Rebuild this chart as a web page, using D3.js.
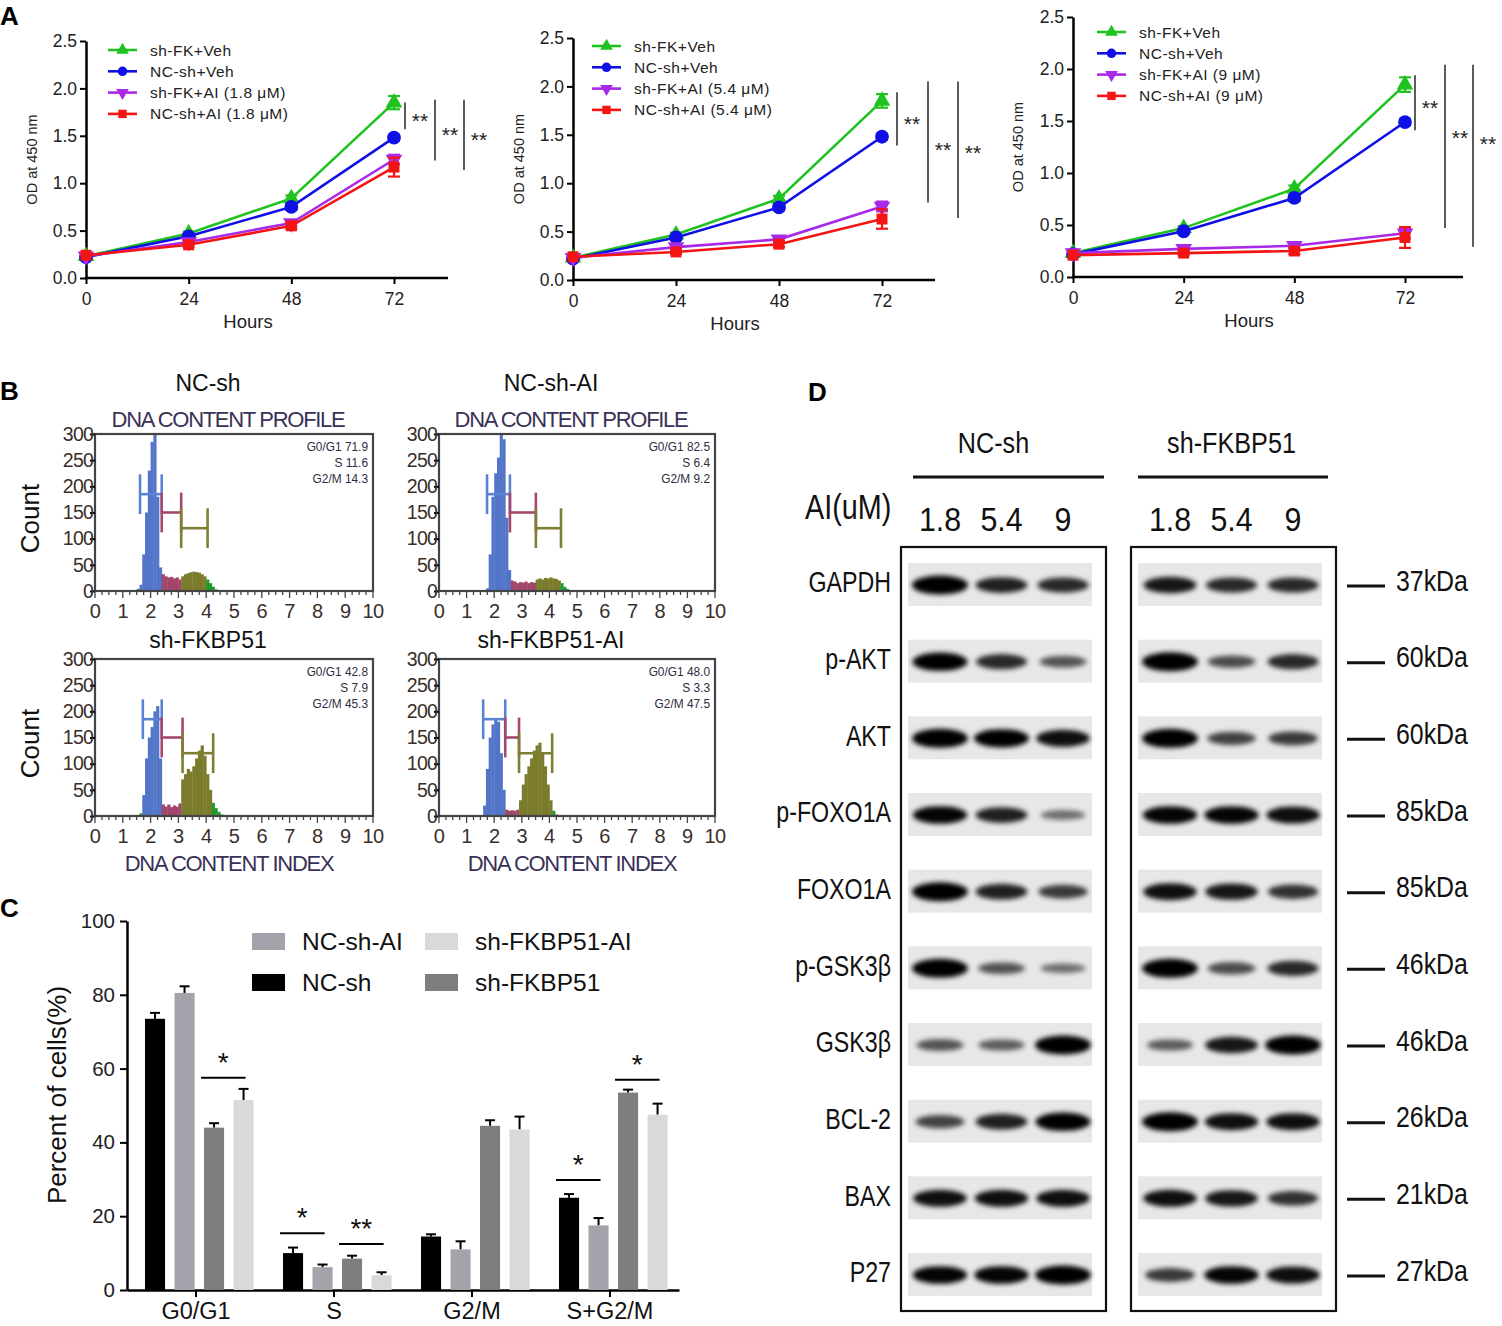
<!DOCTYPE html>
<html>
<head>
<meta charset="utf-8">
<title>FKBP51 / AI proliferation, cell cycle and western blot</title>
<script src="https://d3js.org/d3.v7.min.js"></script>
<style>
body { margin: 0; background: #fff; }
svg, svg text { font-family: "Liberation Sans", Arial, sans-serif; }
</style>
</head>
<body>
<script>

// ---------- panel A : CCK-8 growth curves ----------
var hours = [0, 24, 48, 72];
var odTicks = [0, 0.5, 1.0, 1.5, 2.0, 2.5];
var growthSeries = ["sh-FK+Veh", "NC-sh+Veh", "sh-FK+AI", "NC-sh+AI"];
var growthDoses = ["1.8 μM", "5.4 μM", "9 μM"];
var od18 = [[0.23, 0.47, 0.84, 1.85], [0.22, 0.44, 0.75, 1.48], [0.23, 0.38, 0.58, 1.25], [0.24, 0.35, 0.55, 1.17]];
var od54 = [[0.23, 0.47, 0.84, 1.85], [0.22, 0.44, 0.75, 1.48], [0.23, 0.34, 0.42, 0.76], [0.24, 0.29, 0.37, 0.63]];
var od9  = [[0.23, 0.47, 0.85, 1.85], [0.22, 0.44, 0.76, 1.49], [0.23, 0.27, 0.30, 0.42], [0.21, 0.23, 0.25, 0.38]];
var odErr = [[0, 0.02, 0.03, 0.07], [0, 0.02, 0.03, 0.03], [0, 0.02, 0.03, 0.05], [0, 0.02, 0.03, 0.10]];
// significance brackets at 72 h: [top, bottom] in OD units
var odSig18 = [[1.85, 1.57], [1.88, 1.24], [1.88, 1.14]];
var odSig54 = [[1.94, 1.39], [2.05, 0.80], [2.05, 0.64]];
var odSig9  = [[1.94, 1.41], [2.04, 0.47], [2.04, 0.29]];

// ---------- panel B : DNA content histograms (bins of 0.1) ----------
var histNames = ["NC-sh", "NC-sh-AI", "sh-FKBP51", "sh-FKBP51-AI"];
var histStart = [1.5, 1.7, 1.6, 1.5];
var histNC   = [4, 12, 70, 150, 230, 285, 300, 180, 45, 32, 28, 26, 27, 24, 26, 22, 28, 32, 34, 36, 37, 36, 35, 32, 28, 22, 15, 8, 3];
var histNCAI = [5, 70, 180, 225, 255, 300, 290, 140, 40, 20, 18, 15, 17, 16, 18, 15, 17, 16, 22, 24, 22, 25, 24, 26, 24, 23, 20, 15, 8, 4];
var histFK   = [5, 40, 110, 150, 170, 200, 210, 110, 22, 18, 22, 17, 20, 18, 24, 70, 80, 90, 85, 95, 110, 125, 135, 115, 80, 50, 25, 15, 8, 3];
var histFKAI = [0, 20, 90, 150, 175, 185, 180, 120, 50, 12, 10, 11, 10, 12, 30, 60, 80, 95, 110, 125, 135, 140, 120, 95, 60, 30, 10, 3];
// gate limits [G1 start, S start, G2 start, G2 end]
var histGates = [[1.62, 2.4, 3.1, 4.05], [1.74, 2.57, 3.51, 4.42], [1.72, 2.4, 3.15, 4.25], [1.6, 2.4, 2.9, 4.1]];
var gateLevels = [185, 150, 120];
var histStats = [
  ["G0/G1 71.9", "S 11.6", "G2/M 14.3"],
  ["G0/G1 82.5", "S 6.4", "G2/M 9.2"],
  ["G0/G1 42.8", "S 7.9", "G2/M 45.3"],
  ["G0/G1 48.0", "S 3.3", "G2/M 47.5"]
];
var countTicks = [0, 50, 100, 150, 200, 250, 300];
var indexTicks = [0, 1, 2, 3, 4, 5, 6, 7, 8, 9, 10];

// ---------- panel C : cell-cycle bar chart ----------
var phases = ["G0/G1", "S", "G2/M", "S+G2/M"];
var cellGroups = ["NC-sh", "NC-sh-AI", "sh-FKBP51", "sh-FKBP51-AI"];
var pctNC   = [73.5, 10.0, 14.5, 25.0];
var pctNCAI = [80.5, 6.2, 11.0, 17.5];
var pctFK   = [44.0, 8.5, 44.5, 53.5];
var pctFKAI = [51.5, 4.0, 43.5, 47.5];
var errNC   = [1.6, 1.5, 0.6, 1.0];
var errNCAI = [1.8, 0.7, 2.2, 2.0];
var errFK   = [1.2, 0.8, 1.5, 0.8];
var errFKAI = [3.0, 0.8, 3.5, 3.0];
var pctTicks = [0, 20, 40, 60, 80, 100];
var pctSig = [
  { phase: "G0/G1", from: 2, to: 3, y: 57.5, label: "*" },
  { phase: "S", from: 0, to: 1, y: 15.4, label: "*" },
  { phase: "S", from: 2, to: 3, y: 12.5, label: "**" },
  { phase: "S+G2/M", from: 0, to: 1, y: 29.8, label: "*" },
  { phase: "S+G2/M", from: 2, to: 3, y: 57.0, label: "*" }
];

// ---------- panel D : western blot ----------
var proteins = ["GAPDH", "p-AKT", "AKT", "p-FOXO1A", "FOXO1A", "p-GSK3β", "GSK3β", "BCL-2", "BAX", "P27"];
var kDa = ["37kDa", "60kDa", "60kDa", "85kDa", "85kDa", "46kDa", "46kDa", "26kDa", "21kDa", "27kDa"];
var blotGroups = ["NC-sh", "sh-FKBP51"];
var aiDoses = ["1.8", "5.4", "9"];
var bandNC = [[1.0, 0.75, 0.7], [0.95, 0.7, 0.45], [1.0, 0.95, 0.85], [0.9, 0.75, 0.3], [1.0, 0.75, 0.6],
              [1.0, 0.45, 0.3], [0.45, 0.4, 1.0], [0.55, 0.75, 0.95], [0.85, 0.85, 0.85], [0.9, 0.9, 1.0]];
var bandFK = [[0.8, 0.7, 0.7], [1.0, 0.5, 0.7], [1.0, 0.55, 0.6], [0.9, 0.9, 0.85], [0.85, 0.8, 0.65],
              [1.0, 0.5, 0.7], [0.4, 0.8, 1.0], [1.0, 0.85, 0.85], [0.85, 0.8, 0.65], [0.6, 0.9, 0.85]];


var svg = d3.select("body").append("svg").attr("width", 1502).attr("height", 1326);
svg.append("rect").attr("width", 1502).attr("height", 1326).attr("fill", "#fff");

var defs = svg.append("defs");
defs.append("filter").attr("id", "blur").attr("x", "-30%").attr("y", "-100%").attr("width", "160%").attr("height", "300%")
  .append("feGaussianBlur").attr("stdDeviation", 2.6);

// condensed text: squeeze horizontally
function ntext(g, x, y, txt, size, anchor, sx) {
  return g.append("text").attr("transform", "translate(" + x + "," + y + ") scale(" + sx + ",1)")
    .attr("text-anchor", anchor).attr("dy", "0.36em").style("font-size", size + "px")
    .attr("fill", "#111").text(txt);
}

// panel letters
[["A", 0, 25], ["B", 0, 400], ["C", 0, 917], ["D", 808, 401]].forEach(function (p) {
  svg.append("text").attr("x", p[1]).attr("y", p[2]).text(p[0])
    .style("font-size", "26px").style("font-weight", "bold");
});

function styleAxis(ax, fs) {
  ax.attr("font-family", null).attr("font-size", null);
  ax.select(".domain").attr("stroke", "#000").attr("stroke-width", 2.5);
  ax.selectAll(".tick line").attr("stroke", "#000").attr("stroke-width", 2);
  ax.selectAll(".tick text").attr("fill", "#222").style("font-size", fs + "px");
}

// ====================== A ======================
var lineColors = ["#1fc21f", "#1010e6", "#a82ae8", "#f41414"];
var symbolTypes = [d3.symbolTriangle, d3.symbolCircle, d3.symbolTriangle, d3.symbolSquare];
var symbolRot = [0, 0, 180, 0];
var symbolSize = [120, 150, 120, 120];

var growthLayout = [
  { x0: 86,   x72: 394,  xEnd: 448,  yTop: 41, yBot: 278, legX: 108,  legY: 50, labX: 32,   sigDx: [11, 41, 70], sigDy: [0, 0, 0] },
  { x0: 573,  x72: 882,  xEnd: 935,  yTop: 38, yBot: 280, legX: 592,  legY: 46, labX: 519,  sigDx: [15, 46, 76], sigDy: [0, 3, -2] },
  { x0: 1073, x72: 1405, xEnd: 1463, yTop: 17, yBot: 277, legX: 1097, legY: 32, labX: 1018, sigDx: [10, 40, 68], sigDy: [0, -13, -17] }
];
var growthData = [od18, od54, od9];
var growthSig = [odSig18, odSig54, odSig9];

growthLayout.forEach(function (L, c) {
  var g = svg.append("g");
  var x = d3.scaleLinear().domain([0, 72]).range([L.x0, L.x72]);
  var y = d3.scaleLinear().domain([0, 2.5]).range([L.yBot, L.yTop]);

  var ya = g.append("g").attr("transform", "translate(" + L.x0 + ",0)")
    .call(d3.axisLeft(y).tickValues(odTicks).tickSize(6).tickSizeOuter(0).tickFormat(d3.format(".1f")));
  styleAxis(ya, 17.5);
  var xa = g.append("g").attr("transform", "translate(0," + L.yBot + ")")
    .call(d3.axisBottom(x).tickValues(hours).tickSize(6).tickSizeOuter(0));
  styleAxis(xa, 17.5);
  xa.select(".domain").remove();
  xa.selectAll(".tick text").attr("dy", "1.05em");
  g.append("line").attr("x1", L.x0 - 1).attr("x2", L.xEnd).attr("y1", L.yBot).attr("y2", L.yBot)
    .attr("stroke", "#000").attr("stroke-width", 2.5);

  g.append("text").attr("x", (L.x0 + L.xEnd) / 2 - 19).attr("y", L.yBot + 50).attr("text-anchor", "middle")
    .style("font-size", "18.5px").attr("fill", "#222").text("Hours");
  g.append("text").attr("transform", "translate(" + L.labX + "," + ((L.yTop + L.yBot) / 2) + ") rotate(-90)")
    .attr("text-anchor", "middle").attr("dy", "0.35em").style("font-size", "14.5px").attr("fill", "#222")
    .text("OD at 450 nm");

  var line = d3.line().x(function (d, i) { return x(hours[i]); }).y(function (d) { return y(d); });
  var vals = growthData[c];
  vals.forEach(function (s, k) {
    g.append("path").datum(s).attr("d", line).attr("fill", "none")
      .attr("stroke", lineColors[k]).attr("stroke-width", 2.6);
    s.forEach(function (v, i) {
      var e = odErr[k][i];
      if (e > 0) {
        var xx = x(hours[i]);
        g.append("line").attr("x1", xx).attr("x2", xx).attr("y1", y(v - e)).attr("y2", y(v + e))
          .attr("stroke", lineColors[k]).attr("stroke-width", 2.2);
        [v - e, v + e].forEach(function (b) {
          g.append("line").attr("x1", xx - 6).attr("x2", xx + 6).attr("y1", y(b)).attr("y2", y(b))
            .attr("stroke", lineColors[k]).attr("stroke-width", 2.2);
        });
      }
    });
    g.selectAll(null).data(s).enter().append("path")
      .attr("d", d3.symbol().type(symbolTypes[k]).size(symbolSize[k]))
      .attr("transform", function (d, i) { return "translate(" + x(hours[i]) + "," + y(d) + ") rotate(" + symbolRot[k] + ")"; })
      .attr("fill", lineColors[k]);
  });

  // significance bars
  growthSig[c].forEach(function (b, j) {
    var xx = L.x72 + L.sigDx[j];
    g.append("line").attr("x1", xx).attr("x2", xx).attr("y1", y(b[0])).attr("y2", y(b[1]))
      .attr("stroke", "#333").attr("stroke-width", 1.6);
    g.append("text").attr("x", xx + 15).attr("y", (y(b[0]) + y(b[1])) / 2 + 12 + L.sigDy[j]).attr("text-anchor", "middle")
      .style("font-size", "21px").attr("fill", "#222").text("**");
  });

  // legend
  growthSeries.forEach(function (name, k) {
    var ly = L.legY + k * 21.3;
    g.append("line").attr("x1", L.legX).attr("x2", L.legX + 29).attr("y1", ly).attr("y2", ly)
      .attr("stroke", lineColors[k]).attr("stroke-width", 2.6);
    g.append("path").attr("d", d3.symbol().type(symbolTypes[k]).size(70))
      .attr("transform", "translate(" + (L.legX + 14.5) + "," + ly + ") rotate(" + symbolRot[k] + ")")
      .attr("fill", lineColors[k]);
    g.append("text").attr("x", L.legX + 42).attr("y", ly).attr("dy", "0.36em")
      .style("font-size", "15.5px").style("letter-spacing", "0.5px").attr("fill", "#222")
      .text(k < 2 ? name : name + " (" + growthDoses[c] + ")");
  });
});

// ====================== B ======================
var histData = [histNC, histNCAI, histFK, histFKAI];
var histBoxes = [
  { x: 95, y: 434, w: 278, h: 157, titleY: 383, title2: "DNA CONTENT PROFILE" },
  { x: 439, y: 434, w: 276, h: 157, titleY: 383, title2: "DNA CONTENT PROFILE" },
  { x: 95, y: 659, w: 278, h: 157, titleY: 640, title2: null },
  { x: 439, y: 659, w: 276, h: 157, titleY: 640, title2: null }
];
var phaseColors = ["#1f9a2f", "#5275c8", "#a1456a", "#7b7b2c", "#1f9a2f"];
var gateColors = ["#5a83d6", "#a4486d", "#7f7f33"];

histBoxes.forEach(function (B, h) {
  var g = svg.append("g");
  var x = d3.scaleLinear().domain([0, 10]).range([B.x, B.x + B.w]);
  var y = d3.scaleLinear().domain([0, 300]).range([B.y + B.h, B.y]);
  var gates = histGates[h];

  g.append("text").attr("x", B.x + B.w / 2 - 26).attr("y", B.titleY).attr("text-anchor", "middle")
    .attr("dy", "0.36em").style("font-size", "23px").attr("fill", "#111").text(histNames[h]);
  if (B.title2) {
    g.append("text").attr("x", B.x + B.w / 2 - 6).attr("y", B.y - 7).attr("text-anchor", "middle")
      .style("font-size", "22px").style("letter-spacing", "-1.3px").attr("fill", "#3a3158").text(B.title2);
  }

  // bars of the histogram
  var counts = histData[h];
  g.selectAll(null).data(counts).enter().append("rect")
    .attr("x", function (d, i) { return x(histStart[h] + i * 0.1); })
    .attr("width", function () { return x(0.1) - x(0) + 0.4; })
    .attr("y", function (d) { return y(d); })
    .attr("height", function (d) { return y(0) - y(d); })
    .attr("fill", function (d, i) {
      var c = histStart[h] + i * 0.1 + 0.05;
      var p = c < gates[0] ? 0 : c < gates[1] ? 1 : c < gates[2] ? 2 : c < gates[3] ? 3 : 4;
      return phaseColors[p];
    });

  // gates
  [0, 1, 2].forEach(function (k) {
    var gy = y(gateLevels[k]);
    var xa = x(gates[k]), xb = x(gates[k + 1]);
    g.append("line").attr("x1", xa).attr("x2", xb).attr("y1", gy).attr("y2", gy)
      .attr("stroke", gateColors[k]).attr("stroke-width", 2.6);
    [xa, xb].forEach(function (xx) {
      g.append("line").attr("x1", xx).attr("x2", xx).attr("y1", y(gateLevels[k] + 38)).attr("y2", y(gateLevels[k] - 38))
        .attr("stroke", gateColors[k]).attr("stroke-width", 2.6);
    });
  });

  // frame
  g.append("rect").attr("x", B.x).attr("y", B.y).attr("width", B.w).attr("height", B.h)
    .attr("fill", "none").attr("stroke", "#444").attr("stroke-width", 2.2);

  var ya = g.append("g").attr("transform", "translate(" + B.x + ",0)")
    .call(d3.axisLeft(y).tickValues(countTicks).tickSize(5).tickSizeOuter(0));
  styleAxis(ya, 19.5);
  ya.select(".domain").remove();
  ya.selectAll(".tick text").attr("x", -2).attr("fill", "#3a2f2a").style("letter-spacing", "-0.8px");
  var minor = d3.range(0, 10.01, 0.25);
  g.selectAll(null).data(minor).enter().append("line")
    .attr("x1", function (d) { return x(d); }).attr("x2", function (d) { return x(d); })
    .attr("y1", B.y + B.h).attr("y2", function (d) { return B.y + B.h + (d % 1 === 0 ? 7 : 4); })
    .attr("stroke", "#444").attr("stroke-width", 1.3);
  g.selectAll(null).data(indexTicks).enter().append("text")
    .attr("x", function (d) { return x(d); }).attr("y", B.y + B.h + 27).attr("text-anchor", "middle")
    .style("font-size", "20px").style("letter-spacing", "-0.5px").attr("fill", "#3a2f2a").text(function (d) { return d; });

  histStats[h].forEach(function (t, k) {
    ntext(g, B.x + B.w - 5, B.y + 12 + k * 16, t, 13.5, "end", 0.88).attr("fill", "#2d2d40");
  });

  if (h % 2 === 0) {
    g.append("text").attr("transform", "translate(30," + (B.y + B.h / 2 + 6) + ") rotate(-90)")
      .attr("text-anchor", "middle").attr("dy", "0.36em").style("font-size", "26px").attr("fill", "#111").text("Count");
  }
  if (h >= 2) {
    g.append("text").attr("x", B.x + B.w / 2 - 5).attr("y", B.y + B.h + 55).attr("text-anchor", "middle")
      .style("font-size", "22px").style("letter-spacing", "-1.3px").attr("fill", "#3a3158").text("DNA CONTENT INDEX");
  }
});

// ====================== C ======================
(function () {
  var g = svg.append("g");
  var pct = [pctNC, pctNCAI, pctFK, pctFKAI];
  var err = [errNC, errNCAI, errFK, errFKAI];
  var colors = ["#000000", "#a3a3ab", "#7e7e7e", "#d9d9d9"];
  var x0 = d3.scaleBand().domain(phases).range([127, 679]);
  var x1 = d3.scaleBand().domain(cellGroups).range([18, 126.6]).paddingInner(0.32);
  var y = d3.scaleLinear().domain([0, 100]).range([1290, 921]);

  var ya = g.append("g").attr("transform", "translate(127,0)")
    .call(d3.axisLeft(y).tickValues(pctTicks).tickSize(7).tickSizeOuter(0));
  styleAxis(ya, 20.5);
  ya.selectAll(".tick text").attr("x", -12);
  var xa = g.append("g").attr("transform", "translate(0,1290)")
    .call(d3.axisBottom(x0).tickSize(7).tickSizeOuter(0));
  styleAxis(xa, 23.5);
  xa.selectAll(".tick text").attr("y", 0).attr("dy", null).attr("transform", "translate(0,29)").attr("fill", "#111");

  phases.forEach(function (p, i) {
    cellGroups.forEach(function (c, k) {
      var bx = x0(p) + x1(c), v = pct[k][i], e = err[k][i];
      var cx = bx + x1.bandwidth() / 2;
      g.append("line").attr("x1", cx).attr("x2", cx).attr("y1", y(v)).attr("y2", y(v + e))
        .attr("stroke", "#000").attr("stroke-width", 2);
      g.append("line").attr("x1", cx - 5).attr("x2", cx + 5).attr("y1", y(v + e)).attr("y2", y(v + e))
        .attr("stroke", "#000").attr("stroke-width", 2);
      g.append("rect").attr("x", bx).attr("width", x1.bandwidth()).attr("y", y(v)).attr("height", y(0) - y(v))
        .attr("fill", colors[k]);
    });
  });

  pctSig.forEach(function (s) {
    var xa = x0(s.phase) + x1(cellGroups[s.from]) - 3;
    var xb = x0(s.phase) + x1(cellGroups[s.to]) + x1.bandwidth() - 8;
    g.append("line").attr("x1", xa).attr("x2", xb).attr("y1", y(s.y)).attr("y2", y(s.y))
      .attr("stroke", "#000").attr("stroke-width", 2);
    g.append("text").attr("x", (xa + xb) / 2).attr("y", y(s.y) - 6).attr("text-anchor", "middle")
      .style("font-size", "28px").attr("fill", "#111").text(s.label);
  });

  g.append("text").attr("transform", "translate(57,1095) rotate(-90)").attr("text-anchor", "middle")
    .attr("dy", "0.36em").style("font-size", "26px").attr("fill", "#111").text("Percent of cells(%)");

  // legend: two rows, two columns
  var legOrder = [[1, 252, 941], [3, 425, 941], [0, 252, 982], [2, 425, 982]];
  legOrder.forEach(function (o) {
    g.append("rect").attr("x", o[1]).attr("y", o[2] - 8).attr("width", 33).attr("height", 17).attr("fill", colors[o[0]]);
    g.append("text").attr("x", o[1] + 50).attr("y", o[2]).attr("dy", "0.36em")
      .style("font-size", "24.5px").attr("fill", "#111").text(cellGroups[o[0]]);
  });
})();

// ====================== D ======================
(function () {
  var g = svg.append("g");
  var rowY = d3.scalePoint().domain(proteins).range([584, 1274]);
  var strips = [{ x: 908, w: 184 }, { x: 1138, w: 184 }];
  var boxes = [{ x: 901, w: 205 }, { x: 1131, w: 205 }];
  var bands = [bandNC, bandFK];

  blotGroups.forEach(function (name, gi) {
    var S = strips[gi];
    var lane = d3.scalePoint().domain(aiDoses).range([S.x + 32, S.x + 155]);
    ntext(g, boxes[gi].x + boxes[gi].w / 2 - 10 + gi * 8, 442, name, 30, "middle", 0.84);
    g.append("line").attr("x1", boxes[gi].x + 12 - gi * 5).attr("x2", boxes[gi].x + 203 - gi * 6)
      .attr("y1", 477).attr("y2", 477).attr("stroke", "#111").attr("stroke-width", 3);
    aiDoses.forEach(function (d) {
      ntext(g, lane(d), 519, d, 33, "middle", 0.92);
    });

    proteins.forEach(function (p, r) {
      var cy = rowY(p);
      g.append("rect").attr("x", S.x).attr("y", cy - 21).attr("width", S.w).attr("height", 43)
        .attr("fill", "#e7e7e7");
      aiDoses.forEach(function (d, li) {
        var v = bands[gi][r][li];
        g.append("ellipse").attr("cx", lane(d)).attr("cy", cy + 1)
          .attr("rx", 20 + 8 * v).attr("ry", 3 + 6.5 * v)
          .attr("fill", "#000").attr("opacity", Math.min(1, 0.3 + 0.75 * v))
          .attr("filter", "url(#blur)");
      });
    });

    g.append("rect").attr("x", boxes[gi].x).attr("y", 547).attr("width", boxes[gi].w).attr("height", 764)
      .attr("fill", "none").attr("stroke", "#111").attr("stroke-width", 2.2);
  });

  ntext(g, 805, 506, "AI(uM)", 36, "start", 0.8);

  proteins.forEach(function (p, r) {
    var cy = rowY(p);
    ntext(g, 891, cy - 2, p, 29, "end", 0.8);
    g.append("line").attr("x1", 1347).attr("x2", 1385).attr("y1", cy + 2).attr("y2", cy + 2)
      .attr("stroke", "#111").attr("stroke-width", 3);
    ntext(g, 1396, cy - 4, kDa[r], 30, "start", 0.83);
  });
})();

</script>
</body>
</html>
